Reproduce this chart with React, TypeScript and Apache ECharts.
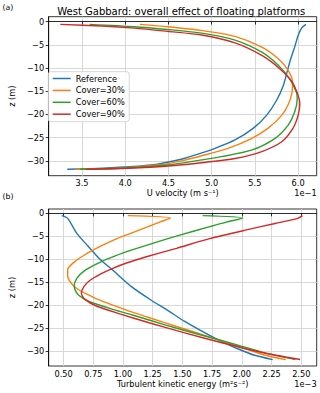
import React, { useEffect, useRef } from "react";
import * as echarts from "echarts";

// ---- Panel (a): U velocity (x 1e-1 m/s) vs depth z (m) ----
const uReference: number[][] = [
  [6.09, -0.6], [6.04, -1.4], [6.0, -3.0], [5.96, -5.5], [5.915, -8.0], [5.877, -10.5],
  [5.83, -13.7], [5.75, -17.0], [5.635, -20.2], [5.48, -23.0], [5.27, -25.5], [5.04, -27.3],
  [4.885, -28.3], [4.66, -29.6], [4.3, -30.9], [3.74, -31.6], [3.33, -31.8],
];
const uCover30: number[][] = [
  [4.17, -0.6], [4.49, -1.1], [4.88, -1.9], [5.27, -3.2], [5.58, -5.5], [5.77, -8.0],
  [5.885, -10.5], [5.935, -13.0], [5.93, -15.2], [5.89, -17.7], [5.81, -20.2], [5.65, -23.0],
  [5.46, -25.2], [5.19, -27.3], [4.885, -28.9], [4.65, -30.0], [4.42, -30.8], [3.92, -31.6], [3.42, -31.8],
];
const uCover60: number[][] = [
  [3.59, -0.6], [4.11, -1.1], [4.49, -1.7], [4.885, -2.5], [5.27, -4.0], [5.58, -6.6],
  [5.77, -9.4], [5.9, -12.3], [5.98, -15.2], [5.99, -16.6], [5.96, -19.5], [5.885, -22.3],
  [5.73, -25.2], [5.46, -27.7], [5.115, -29.1], [4.885, -29.8], [4.49, -30.9], [3.93, -31.6], [3.48, -31.8],
];
const uCover90: number[][] = [
  [3.25, -0.6], [3.735, -0.95], [4.11, -1.4], [4.49, -2.1], [4.885, -2.9], [5.27, -4.6],
  [5.58, -7.3], [5.79, -10.2], [5.93, -13.0], [6.0, -15.9], [6.02, -17.7], [6.0, -20.2],
  [5.94, -23.0], [5.81, -25.9], [5.58, -28.0], [5.27, -29.5], [4.885, -30.4], [4.57, -31.0],
  [4.04, -31.6], [3.55, -31.8],
];

// ---- Panel (b): turbulent kinetic energy (x 1e-3 m2/s2) vs depth z (m) ----
const tkeReference: number[][] = [
  [0.485, -0.5], [0.525, -0.9], [0.547, -1.5], [0.61, -4.3], [0.705, -7.1], [0.8, -9.8],
  [0.92, -12.5], [1.074, -16.0], [1.238, -18.9], [1.37, -21.0], [1.52, -23.5], [1.69, -26.0],
  [1.84, -28.0], [1.97, -29.5], [2.1, -30.8], [2.26, -31.8],
];
const tkeCover30: number[][] = [
  [1.04, -0.5], [1.4, -1.0], [1.32, -1.8], [1.2, -3.0], [1.07, -4.3], [0.93, -5.7], [0.8, -7.3],
  [0.68, -9.0], [0.59, -10.6], [0.535, -12.2], [0.535, -13.6], [0.565, -15.2], [0.62, -16.5],
  [0.7, -17.6], [0.79, -18.7], [0.92, -20.0], [1.08, -21.5], [1.21, -22.6], [1.45, -24.6],
  [1.72, -26.8], [1.98, -29.0], [2.19, -30.8], [2.37, -31.8],
];
const tkeCover60: number[][] = [
  [1.67, -0.5], [2.01, -1.0], [1.87, -1.9], [1.73, -2.9], [1.47, -4.8], [1.19, -7.0], [1.07, -8.0],
  [0.94, -9.2], [0.81, -10.6], [0.68, -12.4], [0.61, -14.2], [0.59, -15.9], [0.62, -17.6],
  [0.72, -19.2], [0.93, -21.0], [1.08, -22.1], [1.36, -24.3], [1.65, -26.4], [1.96, -28.6],
  [2.2, -30.4], [2.45, -31.8],
];
const tkeCover90: number[][] = [
  [2.51, -0.5], [2.47, -1.1], [2.28, -2.2], [2.02, -3.7], [1.73, -5.5], [1.45, -7.6], [1.19, -9.5],
  [1.03, -10.8], [0.91, -12.0], [0.81, -13.2], [0.72, -14.6], [0.67, -16.0], [0.65, -17.4],
  [0.68, -18.7], [0.78, -20.2], [0.98, -21.9], [1.22, -23.8], [1.52, -26.0], [1.84, -28.2],
  [2.16, -30.2], [2.49, -31.8],
];

const seriesNames = ["Reference", "Cover=30%", "Cover=60%", "Cover=90%"];
const seriesColors = ["#1f77b4", "#ff7f0e", "#2ca02c", "#d62728"];
const uTicks = [3.5, 4.0, 4.5, 5.0, 5.5, 6.0];
const tkeTicks = [0.5, 0.75, 1.0, 1.25, 1.5, 1.75, 2.0, 2.25, 2.5];
const zTicks = [0, -5, -10, -15, -20, -25, -30];

const FONT = "DejaVu Sans";
const FS = 8.2;

export default function App() {
  const ref = useRef<HTMLDivElement>(null);

  useEffect(() => {
    if (!ref.current) return;
    const chart = echarts.init(ref.current, null, { renderer: "svg" });

    const labelStyle = { fontFamily: FONT, fontSize: FS, color: "#000" };
    const splitLine = { show: true, lineStyle: { color: "#d4d4d4", width: 0.9 } };
    const axisLine = { show: true, lineStyle: { color: "#000", width: 0.8 } };
    const zFmt = (v: number) => (v === 0 ? "0" : v < 0 ? "\u2212" + Math.abs(v) : String(v));

    const mkX = (gi: number, min: number, max: number, ticks: number[], dec: number, name: string) => ({
      type: "value",
      gridIndex: gi,
      min,
      max,
      axisLine,
      axisTick: { show: true, length: 3, customValues: ticks, lineStyle: { color: "#000", width: 0.8 } },
      axisLabel: { ...labelStyle, margin: 3.5, customValues: ticks, formatter: (v: number) => v.toFixed(dec) },
      splitLine,
      name,
      nameLocation: "middle",
      nameGap: gi === 0 ? 17.6 : 18,
      nameTextStyle: { ...labelStyle, verticalAlign: "middle" },
    });
    const mkY = (gi: number) => ({
      type: "value",
      gridIndex: gi,
      min: -33.2,
      max: gi === 0 ? 1.05 : 0.95,
      axisLine,
      axisTick: { show: true, length: 3, customValues: zTicks, lineStyle: { color: "#000", width: 0.8 } },
      axisLabel: { ...labelStyle, margin: 4.5, customValues: zTicks, formatter: zFmt },
      splitLine,
      name: "z (m)",
      nameLocation: "middle",
      nameGap: 26.4,
      nameTextStyle: { ...labelStyle, verticalAlign: "middle" },
    });

    const uData = [uReference, uCover30, uCover60, uCover90];
    const tkeData = [tkeReference, tkeCover30, tkeCover60, tkeCover90];
    const mkSeries = (data: number[][], i: number, gi: number) => ({
      type: "line",
      name: seriesNames[i],
      xAxisIndex: gi,
      yAxisIndex: gi,
      data,
      symbol: "none",
      showSymbol: false,
      smooth: 0.25,
      lineStyle: { color: seriesColors[i], width: 1.4 },
      itemStyle: { color: seriesColors[i] },
      z: 2 + i,
    });

    chart.setOption({
      animation: false,
      backgroundColor: "#fff",
      grid: [
        { left: 45.7, right: 3.3, top: 16.7, height: 159, show: true, borderColor: "#000", borderWidth: 0.8, backgroundColor: "transparent" },
        { left: 45.7, right: 3.3, top: 209, height: 157, show: true, borderColor: "#000", borderWidth: 0.8, backgroundColor: "transparent" },
      ],
      xAxis: [
        mkX(0, 3.115, 6.215, uTicks, 1, "U velocity (m s\u207B\u00B9)"),
        mkX(1, 0.375, 2.63, tkeTicks, 2, "Turbulent kinetic energy (m\u00B2s\u207B\u00B2)"),
      ],
      yAxis: [mkY(0), mkY(1)],
      legend: {
        data: seriesNames.map((n) => ({ name: n, icon: "rect" })),
        orient: "vertical",
        left: 48.3,
        top: 71.7,
        itemWidth: 18,
        itemHeight: 1.5,
        itemGap: 1.9,
        padding: [1.8, 4.5, 2.5, 4.4],
        backgroundColor: "rgba(255,255,255,0.85)",
        borderColor: "#cccccc",
        borderWidth: 0.8,
        borderRadius: 2.5,
        textStyle: { ...labelStyle, lineHeight: 10, height: 10 },
      },
      series: [
        ...uData.map((d, i) => mkSeries(d, i, 0)),
        ...tkeData.map((d, i) => mkSeries(d, i, 1)),
      ],
      graphic: [
        { type: "text", x: 181.2, y: 11, style: { text: "West Gabbard: overall effect of floating platforms", font: `10px "${FONT}"`, fill: "#000", textAlign: "center", textVerticalAlign: "middle" } },
        { type: "text", x: 2.5, y: 7, style: { text: "(a)", font: `7.8px "${FONT}"`, fill: "#000", textAlign: "left", textVerticalAlign: "middle" } },
        { type: "text", x: 2.5, y: 196.7, style: { text: "(b)", font: `7.8px "${FONT}"`, fill: "#000", textAlign: "left", textVerticalAlign: "middle" } },
        { type: "text", x: 316.7, y: 193.3, style: { text: "1e\u22121", font: `${FS}px "${FONT}"`, fill: "#000", textAlign: "right", textVerticalAlign: "middle" } },
        { type: "text", x: 316.7, y: 383.5, style: { text: "1e\u22123", font: `${FS}px "${FONT}"`, fill: "#000", textAlign: "right", textVerticalAlign: "middle" } },
      ],
    });

    return () => chart.dispose();
  }, []);

  return (
    <div
      ref={ref}
      style={{ position: "fixed", left: 0, top: 0, width: 320, height: 393, background: "#fff" }}
    />
  );
}
